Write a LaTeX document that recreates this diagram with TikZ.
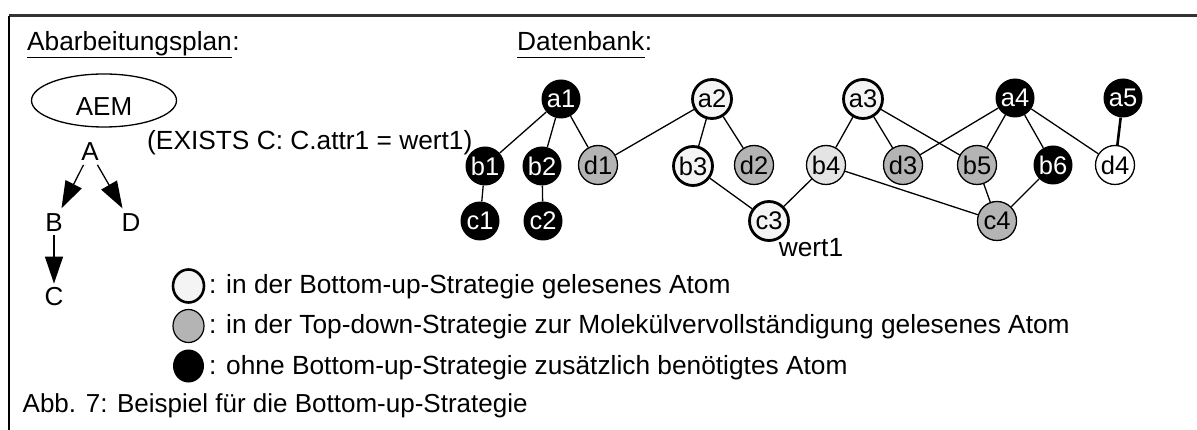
\documentclass[tikz,border=0pt]{standalone}
\usepackage{fontspec}
\setmainfont{Liberation Sans}
\usetikzlibrary{arrows.meta,shapes.geometric}
\definecolor{lightfill}{HTML}{F4F4F4}
\definecolor{bfill}{HTML}{E4E4E4}
\definecolor{grayfill}{HTML}{B4B4B4}
\definecolor{frame}{HTML}{333333}
\tikzset{
  atom/.style={circle, minimum size=39pt, inner sep=0pt, font=\fontsize{25.5}{25.5}\selectfont},
  blackatom/.style={atom, fill=black, text=white},
  grayatom/.style={atom, fill=grayfill, draw=black, line width=1.3pt},
  buatom/.style={atom, fill=lightfill, draw=black, line width=2.8pt},
  lightatom/.style={atom, fill=bfill, draw=black, line width=1.3pt},
  whiteatom/.style={atom, fill=white, draw=black, line width=1.3pt},
  edge/.style={line width=1.3pt},
  big/.style={font=\fontsize{26.3}{26.3}\selectfont, inner sep=0pt},
  legtext/.style={font=\fontsize{26.3}{26.3}\selectfont, inner sep=0pt, anchor=base west},
  planarrow/.style={line width=1.3pt, -{Triangle[length=27pt,width=18pt]}},
  planlabel/.style={font=\fontsize{26}{26}\selectfont, inner sep=2pt}
}
\begin{document}
\begin{tikzpicture}[x=1pt,y=-1pt]
\useasboundingbox (0,0) rectangle (1197,430);
\fill[white] (0,0) rectangle (1197,430);
\draw[line width=3pt, draw=frame] (9,16) -- (1197,16);
\draw[line width=2pt] (9,16) -- (9,430);

% headings
\node[big, anchor=base west] (abar) at (27,51) {Abarbeitungsplan};
\node[big, anchor=base west] (abarc) at (abar.base east) {:};
\draw[line width=1.2pt] ([yshift=-6.5pt]abar.base west) -- ([yshift=-6.5pt]abar.base east);
\node[big, anchor=base west] (db) at (517,51) {Datenbank};
\node[big, anchor=base west] (dbc) at (db.base east) {:};
\draw[line width=1.2pt] ([yshift=-6.5pt]db.base west) -- ([yshift=-6.5pt]db.base east);

% plan
\node[ellipse, draw, line width=1.3pt, minimum width=145pt, minimum height=53pt, inner sep=0pt,
      font=\fontsize{26}{26}\selectfont, text height=30pt, text depth=0pt] (aem) at (104,100.5) {AEM};
\node[planlabel] (A) at (90,152) {A};
\node[planlabel] (B) at (54,223) {B};
\node[planlabel] (D) at (131,223) {D};
\node[planlabel] (C) at (54,297) {C};
\draw[planarrow, shorten <=2pt, shorten >=4pt] (A) -- (B);
\draw[planarrow, shorten <=2pt, shorten >=4pt] (A) -- (D);
\draw[planarrow, shorten <=1pt, shorten >=2pt] (B) -- (C);
\node[big, anchor=base west] (expr) at (147,150) {(EXISTS C: C.attr1 = wert1)};

% atoms
\node[blackatom] (a1) at (561,99) {a1};
\node[buatom] (a2) at (712,99) {a2};
\node[buatom] (a3) at (863,99) {a3};
\node[blackatom] (a4) at (1015,98) {a4};
\node[blackatom] (a5) at (1123,98) {a5};
\node[blackatom] (b1) at (485,166) {b1};
\node[blackatom] (b2) at (542,166) {b2};
\node[grayatom] (d1) at (598,165) {d1};
\node[buatom] (b3) at (693,166) {b3};
\node[grayatom] (d2) at (754,165) {d2};
\node[lightatom] (b4) at (826,165) {b4};
\node[grayatom] (d3) at (903,165) {d3};
\node[grayatom] (b5) at (977,165) {b5};
\node[blackatom] (b6) at (1053,165) {b6};
\node[whiteatom] (d4) at (1115,165) {d4};
\node[blackatom] (c1) at (480,221) {c1};
\node[blackatom] (c2) at (543,221) {c2};
\node[buatom] (c3) at (769,221) {c3};
\node[grayatom] (c4) at (997,221) {c4};
\node[big] (w1) at (811,248) {wert1};

\draw[edge] (a1) -- (b1);
\draw[edge] (a1) -- (b2);
\draw[edge] (a1) -- (d1);
\draw[edge] (b1) -- (c1);
\draw[edge] (b2) -- (c2);
\draw[edge] (a2) -- (d1);
\draw[edge] (a2) -- (b3);
\draw[edge] (a2) -- (d2);
\draw[edge] (b3) -- (c3);
\draw[edge] (c3) -- (b4);
\draw[edge] (a3) -- (b4);
\draw[edge] (a3) -- (d3);
\draw[edge] (a3) -- (b5);
\draw[edge] (b4) -- (c4);
\draw[edge] (a4) -- (d3);
\draw[edge] (a4) -- (b5);
\draw[edge] (a4) -- (b6);
\draw[edge] (a4) -- (d4);
\draw[edge] (b5) -- (c4);
\draw[edge] (b6) -- (c4);
\draw[line width=2.6pt] (a5) -- (d4);

% legend
\node[ellipse, minimum width=31pt, minimum height=33pt, inner sep=0pt, fill=lightfill, draw=black, line width=2.6pt] (l1) at (188.5,286) {};
\node[ellipse, minimum width=31pt, minimum height=33pt, inner sep=0pt, fill=grayfill, draw=black, line width=1.2pt] (l2) at (188.5,326) {};
\node[ellipse, minimum width=31pt, minimum height=33pt, inner sep=0pt, fill=black] (l3) at (188.5,366) {};
\node[legtext] (t1) at (209,294) {: in der Bottom-up-Strategie gelesenes Atom};
\node[legtext] (t2) at (209,334) {: in der Top-down-Strategie zur Molekülvervollständigung gelesenes Atom};
\node[legtext] (t3) at (209,374) {: ohne Bottom-up-Strategie zusätzlich benötigtes Atom};

% caption
\node[big, font=\fontsize{26}{26}\selectfont, anchor=base west] (cap) at (22.5,412) {Abb. 7: Beispiel für die Bottom-up-Strategie};
\end{tikzpicture}
\end{document}
